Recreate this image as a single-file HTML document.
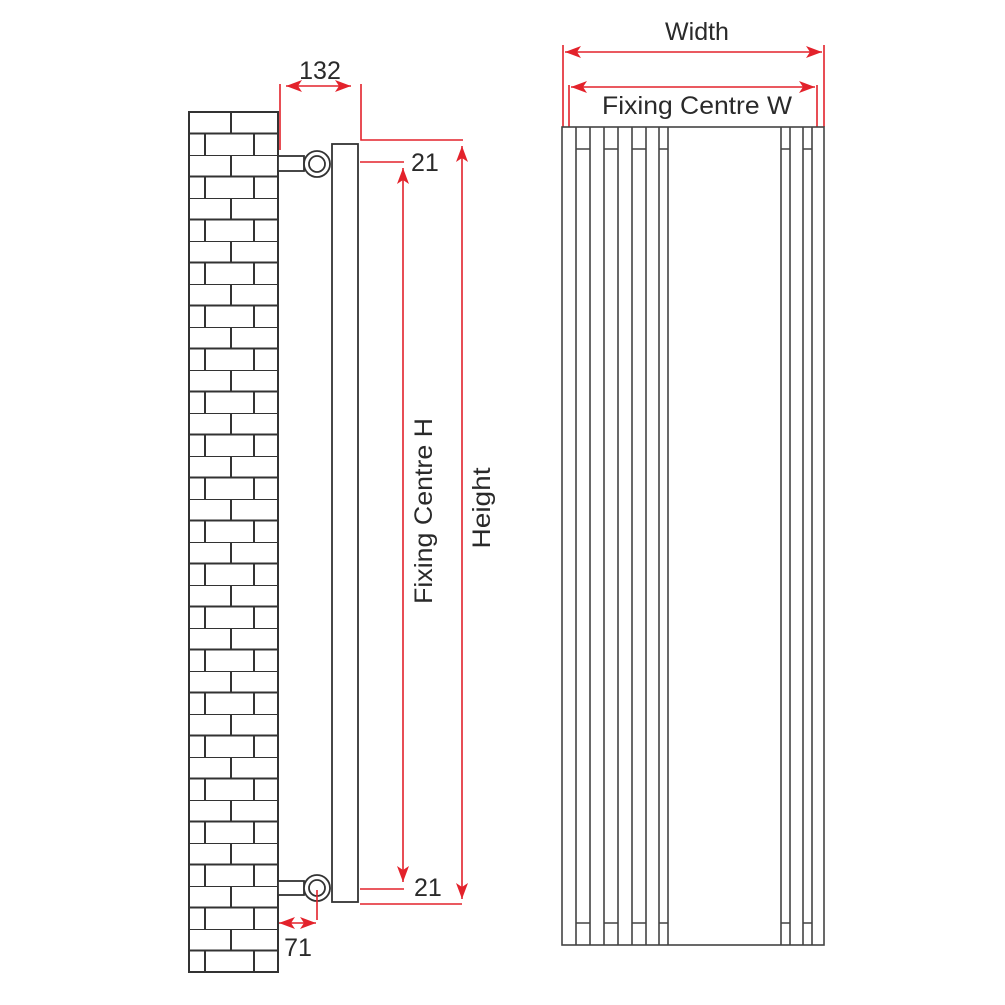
<!DOCTYPE html>
<html><head><meta charset="utf-8"><style>html,body{margin:0;padding:0;background:#fff}svg{display:block}</style></head>
<body>
<svg width="1005" height="1005" viewBox="0 0 1005 1005" xmlns="http://www.w3.org/2000/svg" font-family="Liberation Sans, sans-serif">
<defs>
<pattern id="brick" patternUnits="userSpaceOnUse" x="189" y="112" width="89" height="43">
<path d="M0 0H89M0 21.5H89M42 0V21.5M16 21.5V43M65 21.5V43" stroke="#333" stroke-width="2" fill="none"/>
</pattern>
<marker id="ar" viewBox="0 0 16 12" refX="16" refY="6" markerWidth="16" markerHeight="12" markerUnits="userSpaceOnUse" orient="auto-start-reverse">
<path d="M0 0L16 6L0 12L4 6Z" fill="#e3222b"/>
</marker>
</defs>
<rect x="189" y="112" width="89" height="860" fill="url(#brick)"/>
<rect x="189" y="112" width="89" height="860" fill="none" stroke="#333" stroke-width="2"/>
<g stroke="#333" stroke-width="1.8" fill="#fff">
<rect x="278" y="156" width="26" height="15"/>
<circle cx="317" cy="164" r="13"/>
<circle cx="317" cy="164" r="8"/>
<rect x="278" y="881" width="26" height="14"/>
<circle cx="317" cy="888" r="13"/>
<circle cx="317" cy="888" r="8"/>
<rect x="332" y="144" width="26" height="758"/>
</g>
<g stroke="#e3222b" stroke-width="1.6" fill="none">
<path d="M280 84V150M361 84V140H463M360 162H404M360 889H404M360 904H462M317 890V920"/>
<line x1="286" y1="86" x2="351" y2="86" marker-start="url(#ar)" marker-end="url(#ar)"/>
<line x1="403" y1="168" x2="403" y2="882" marker-start="url(#ar)" marker-end="url(#ar)"/>
<line x1="462" y1="146" x2="462" y2="899" marker-start="url(#ar)" marker-end="url(#ar)"/>
<line x1="279" y1="923" x2="316" y2="923" marker-start="url(#ar)" marker-end="url(#ar)"/>
</g>
<g fill="#2a2a2a" font-size="25">
<text x="320" y="79" text-anchor="middle">132</text>
<text x="411" y="171">21</text>
<text x="414" y="896">21</text>
<text x="298" y="956" text-anchor="middle">71</text>
<text transform="translate(432,511) rotate(-90)" text-anchor="middle" textLength="186" lengthAdjust="spacingAndGlyphs">Fixing Centre H</text>
<text transform="translate(490,508) rotate(-90)" text-anchor="middle" textLength="81" lengthAdjust="spacingAndGlyphs">Height</text>
<text x="697" y="40" text-anchor="middle">Width</text>
<text x="697" y="114" text-anchor="middle" textLength="190" lengthAdjust="spacingAndGlyphs">Fixing Centre W</text>
</g>
<g stroke="#e3222b" stroke-width="1.6" fill="none">
<path d="M563 45V127M824 45V127M569 85V127M817 85V127"/>
<line x1="565" y1="52" x2="822" y2="52" marker-start="url(#ar)" marker-end="url(#ar)"/>
<line x1="571" y1="87" x2="815" y2="87" marker-start="url(#ar)" marker-end="url(#ar)"/>
</g>
<g stroke="#444" stroke-width="1.6" fill="none">
<rect x="562" y="127" width="262" height="818"/>
<path d="M576 127V945M590 127V945M604 127V945M618 127V945M632 127V945M646 127V945M659 127V945M668 127V945M781 127V945M790 127V945M803 127V945M812 127V945"/>
<path d="M576 149H590M604 149H618M632 149H646M659 149H668M781 149H790M803 149H812"/>
<path d="M576 923H590M604 923H618M632 923H646M659 923H668M781 923H790M803 923H812"/>
</g>
</svg>
</body></html>
